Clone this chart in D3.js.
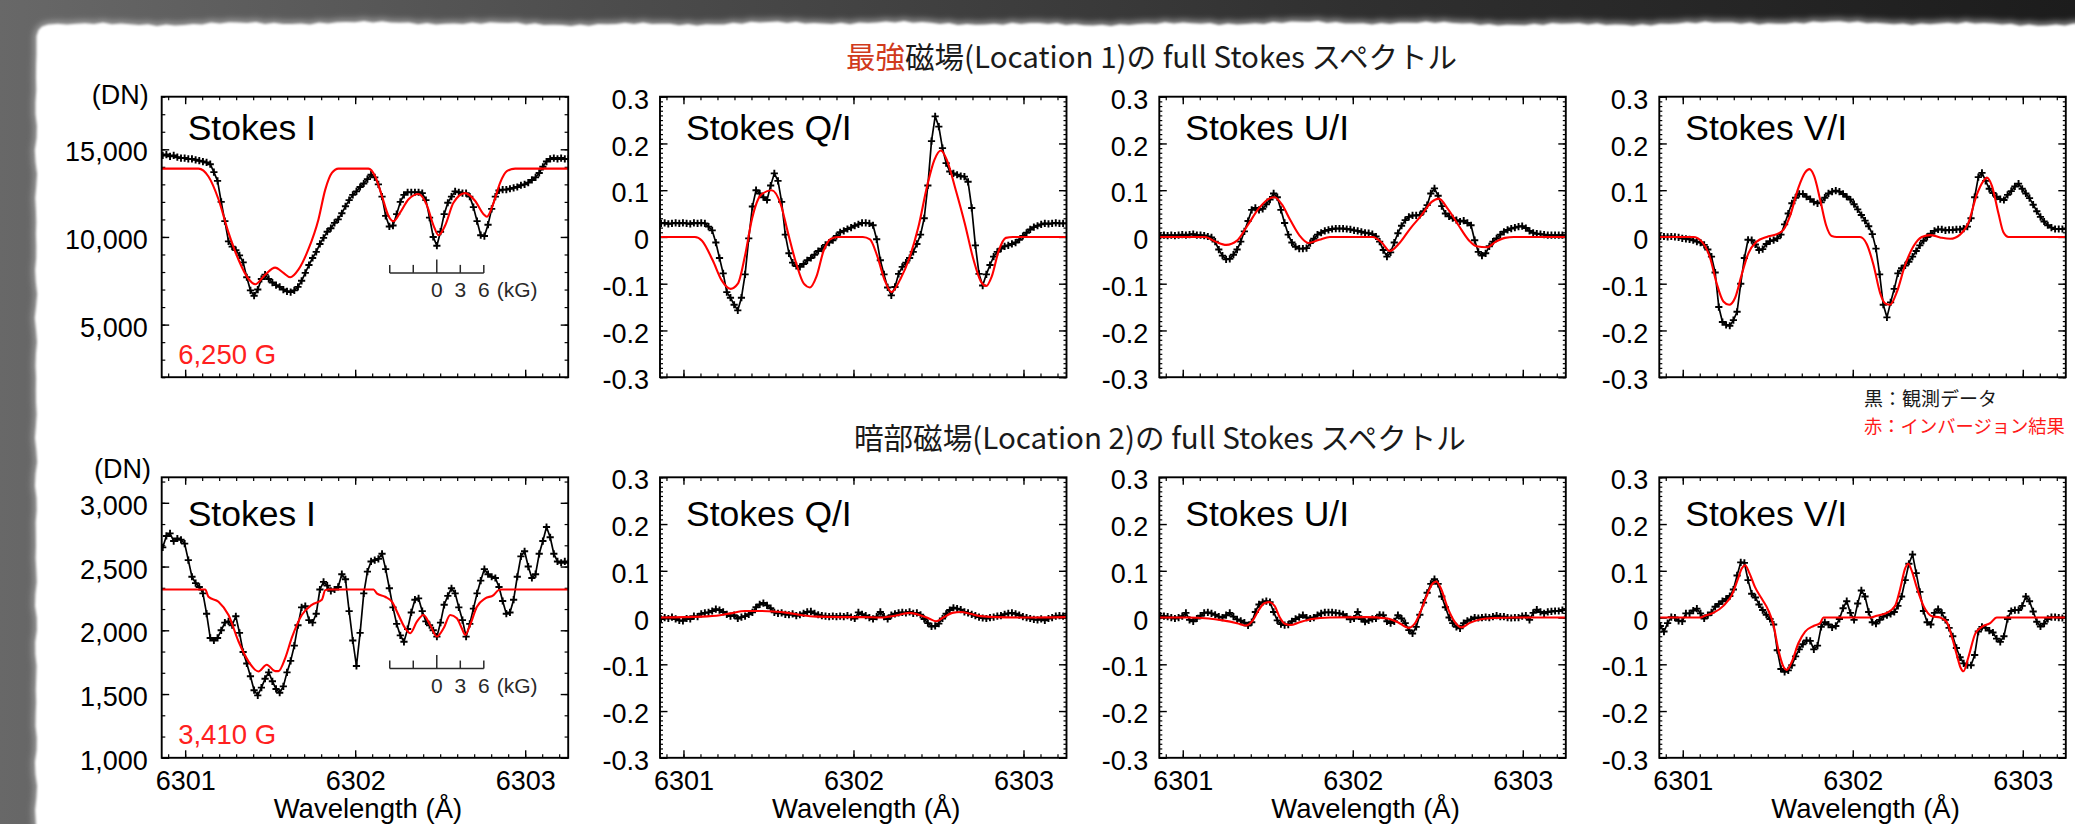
<!DOCTYPE html>
<html><head><meta charset="utf-8">
<script src="https://cdn.jsdelivr.net/npm/d3@7"></script>
<style>html,body{margin:0;padding:0;background:#2a2a2a;overflow:hidden}svg{display:block}</style>
</head><body>
<svg id="chart" width="2075" height="824"></svg>
<script>
// ================= DATA =================
// Hinode/SP sampling grid (wavelength in Å)
const lambdaStart = 6300.868, lambdaStep = 0.0215, nSamples = 112;
const wavelength = d3.range(nSamples).map(i => +(lambdaStart + i * lambdaStep).toFixed(4));

const xTickValues = [6301, 6302, 6303];
const stokesNames = ["Stokes I", "Stokes Q/I", "Stokes U/I", "Stokes V/I"];
const fieldLabels = ["6,250 G", "3,410 G"];
const iTicksLoc1 = [5000, 10000, 15000];
const iTicksLoc2 = [1000, 1500, 2000, 2500, 3000];
const polTicks = [-0.3, -0.2, -0.1, 0, 0.1, 0.2, 0.3];
const kGTicks = [-6, -3, 0, 3, 6];
const kGLabels = [0, 3, 6];
const kGBarLevel = [7950, 1700];

// ---- Location 1 (strongest field) ----
const loc1_I_obs = [14650,14700,14600,14650,14550,14500,14500,14450,14450,14400,
14350,14300,14250,14150,13700,13200,12000,10900,9750,9450,
9250,8950,8550,7700,6950,6650,7000,7600,7850,7600,
7400,7250,7150,7000,6900,6850,6950,7150,7500,7950,
8400,8800,9150,9600,9950,10300,10500,10800,11000,11350,
11750,12100,12400,12600,12850,13050,13300,13550,13400,13000,
12300,11200,10600,10650,11300,12000,12400,12550,12550,12550,
12550,12500,12100,11100,10000,9500,10300,11300,11950,12300,
12600,12550,12500,12500,12300,11700,10900,10100,10050,10700,
11600,12300,12650,12700,12700,12750,12800,12850,12950,13000,
13100,13250,13400,13650,14000,14300,14450,14500,14450,14500,
14450,14450];
const loc1_I_fitLam = [6300.862,6301.078,6301.137,6301.196,6301.255,6301.314,6301.373,6301.412,6301.471,6301.529,6301.578,6301.618,6301.667,6301.725,6301.784,6301.824,6301.863,6301.902,6302.078,6302.118,6302.157,6302.196,6302.225,6302.265,6302.314,6302.373,6302.422,6302.461,6302.490,6302.529,6302.578,6302.647,6302.706,6302.755,6302.775,6302.814,6302.853,6302.892,6302.941,6303.253];
const loc1_I_fit = [13900,13900,13450,12150,10250,8700,7600,7300,7850,8250,7950,7700,8150,9300,11000,12700,13650,13900,13900,13450,12350,11200,10900,11400,12150,12450,11800,10650,10100,10650,11950,12500,12050,11300,11150,11950,13100,13750,13900,13900];

const loc1_Q_obs = [0.029,0.030,0.028,0.029,0.030,0.029,0.030,0.029,0.028,0.030,
0.029,0.030,0.029,0.022,0.014,-0.012,-0.045,-0.078,-0.118,-0.130,
-0.145,-0.157,-0.130,-0.080,-0.003,0.065,0.100,0.093,0.085,0.079,
0.110,0.136,0.120,0.075,0.005,-0.035,-0.055,-0.062,-0.064,-0.058,
-0.050,-0.045,-0.038,-0.030,-0.025,-0.017,-0.012,-0.007,0.002,0.010,
0.013,0.017,0.020,0.024,0.027,0.030,0.030,0.029,0.025,-0.005,
-0.050,-0.080,-0.108,-0.125,-0.107,-0.079,-0.064,-0.055,-0.045,-0.032,
-0.015,0.005,0.040,0.110,0.205,0.258,0.236,0.190,0.158,0.140,
0.136,0.133,0.130,0.129,0.118,0.062,-0.018,-0.079,-0.104,-0.080,
-0.060,-0.042,-0.032,-0.025,-0.020,-0.018,-0.015,-0.012,-0.006,0.002,
0.009,0.016,0.021,0.024,0.027,0.029,0.028,0.029,0.030,0.029,
0.029,0.029];
const loc1_Q_fitLam = [6300.862,6301.067,6301.109,6301.172,6301.225,6301.277,6301.320,6301.362,6301.404,6301.456,6301.519,6301.572,6301.614,6301.666,6301.708,6301.744,6301.782,6301.824,6301.866,6301.908,6302.055,6302.097,6302.139,6302.181,6302.223,6302.276,6302.329,6302.381,6302.434,6302.476,6302.514,6302.549,6302.602,6302.654,6302.707,6302.749,6302.781,6302.813,6302.854,6302.896,6302.938,6303.253];
const loc1_Q_fit = [0,0,-0.008,-0.05,-0.093,-0.111,-0.1,-0.04,0.04,0.09,0.1,0.07,0.01,-0.06,-0.1,-0.108,-0.085,-0.03,-0.004,0,0,-0.005,-0.04,-0.09,-0.118,-0.09,-0.045,0.02,0.11,0.165,0.185,0.165,0.1,0.03,-0.05,-0.095,-0.105,-0.085,-0.03,-0.002,0,0];

const loc1_U_obs = [0.003,0.004,0.003,0.004,0.003,0.004,0.005,0.004,0.005,0.006,
0.004,0.004,0.003,0.001,-0.001,-0.010,-0.027,-0.040,-0.048,-0.047,
-0.038,-0.027,-0.010,0.012,0.034,0.058,0.062,0.058,0.060,0.070,
0.080,0.093,0.085,0.058,0.030,0.005,-0.012,-0.021,-0.025,-0.025,
-0.024,-0.013,-0.004,0.005,0.009,0.013,0.015,0.017,0.018,0.018,
0.018,0.017,0.016,0.014,0.013,0.011,0.009,0.008,0.006,0.001,
-0.010,-0.028,-0.042,-0.033,-0.012,0.008,0.024,0.036,0.043,0.046,
0.046,0.047,0.055,0.068,0.093,0.104,0.088,0.066,0.050,0.044,
0.040,0.036,0.033,0.035,0.030,0.025,-0.007,-0.032,-0.040,-0.035,
-0.020,-0.010,-0.003,0.005,0.011,0.015,0.018,0.020,0.022,0.023,
0.019,0.013,0.009,0.007,0.006,0.005,0.004,0.004,0.004,0.004,
0.004,0.004];
const loc1_U_fitLam = [6300.861,6301.130,6301.193,6301.256,6301.319,6301.382,6301.445,6301.508,6301.540,6301.582,6301.634,6301.687,6301.739,6301.803,6301.866,6302.118,6302.170,6302.218,6302.275,6302.338,6302.401,6302.464,6302.506,6302.559,6302.622,6302.685,6302.727,6302.790,6302.842,6302.895,6302.947,6303.256];
const loc1_U_fit = [0,0,-0.01,-0.017,-0.008,0.025,0.06,0.082,0.085,0.07,0.035,0.003,-0.013,-0.006,0,0,-0.012,-0.03,-0.013,0.018,0.045,0.075,0.082,0.06,0.025,-0.008,-0.02,-0.022,-0.01,-0.002,0,0];

const loc1_V_obs = [0.001,0.001,0.000,0.001,0.000,-0.001,-0.003,-0.004,-0.005,-0.007,
-0.010,-0.012,-0.017,-0.027,-0.042,-0.076,-0.150,-0.182,-0.188,-0.190,
-0.178,-0.160,-0.100,-0.045,-0.006,-0.007,-0.016,-0.028,-0.026,-0.015,
-0.009,-0.007,-0.003,0.005,0.027,0.050,0.072,0.084,0.092,0.092,
0.086,0.081,0.075,0.072,0.074,0.084,0.093,0.097,0.099,0.097,
0.092,0.086,0.080,0.070,0.059,0.047,0.035,0.023,0.006,-0.025,
-0.080,-0.145,-0.172,-0.140,-0.111,-0.078,-0.067,-0.061,-0.053,-0.042,
-0.030,-0.018,-0.008,0.000,0.007,0.013,0.016,0.016,0.014,0.015,
0.015,0.016,0.016,0.018,0.022,0.040,0.085,0.128,0.137,0.120,
0.103,0.094,0.086,0.081,0.079,0.090,0.098,0.108,0.114,0.103,
0.093,0.083,0.069,0.055,0.043,0.033,0.025,0.020,0.017,0.017,
0.017,0.017];
const loc1_V_fitLam = [6300.862,6301.063,6301.112,6301.161,6301.200,6301.239,6301.273,6301.308,6301.347,6301.386,6301.435,6301.494,6301.553,6301.592,6301.631,6301.680,6301.720,6301.745,6301.773,6301.808,6301.843,6301.876,6301.906,6302.043,6302.082,6302.122,6302.161,6302.190,6302.220,6302.259,6302.308,6302.357,6302.406,6302.455,6302.514,6302.573,6302.631,6302.680,6302.729,6302.769,6302.788,6302.818,6302.857,6302.886,6302.916,6303.253];
const loc1_V_fit = [0,0,-0.01,-0.045,-0.1,-0.138,-0.145,-0.13,-0.08,-0.035,-0.01,0,0.006,0.015,0.045,0.105,0.138,0.145,0.13,0.08,0.025,0.002,0,0,-0.015,-0.06,-0.12,-0.142,-0.145,-0.118,-0.06,-0.02,0,0.004,-0.001,-0.004,0.005,0.03,0.09,0.12,0.127,0.11,0.05,0.01,0,0];

// ---- Location 2 (dark region field) ----
const loc2_I_obs = [2650,2740,2760,2700,2720,2710,2680,2550,2420,2370,
2340,2290,2130,1940,1920,1940,2000,2060,2070,2040,
2110,1980,1830,1740,1640,1530,1490,1550,1620,1670,
1600,1540,1510,1560,1670,1760,1880,2040,2180,2190,
2080,2060,2130,2320,2380,2350,2310,2320,2340,2440,
2400,2150,1920,1720,1980,2290,2460,2540,2550,2560,
2600,2480,2330,2180,2050,1960,1910,2010,2140,2240,
2250,2150,2070,2040,2000,1950,2060,2200,2270,2330,
2290,2180,2080,1950,2050,2170,2290,2390,2480,2440,
2420,2410,2340,2230,2130,2140,2240,2420,2580,2620,
2500,2410,2440,2600,2700,2810,2730,2600,2540,2530,
2540,2530];
const loc2_I_fitLam = [6300.862,6301.118,6301.137,6301.196,6301.255,6301.314,6301.373,6301.431,6301.480,6301.529,6301.549,6301.588,6301.627,6301.686,6301.745,6301.804,6301.824,6301.843,6302.108,6302.127,6302.176,6302.216,6302.255,6302.294,6302.324,6302.363,6302.402,6302.441,6302.480,6302.520,6302.559,6302.598,6302.627,6302.647,6302.676,6302.716,6302.765,6302.814,6302.843,6302.863,6303.253];
const loc2_I_fit = [2320,2320,2263,2224,2120,1912,1755,1677,1730,1680,1680,1780,1940,2120,2200,2240,2315,2320,2320,2290,2263,2224,2120,2016,1977,2068,2120,2042,1951,2016,2120,2094,2016,1964,2042,2185,2250,2276,2315,2320,2320];

const loc2_Q_obs = [-0.003,0.000,-0.002,0.001,-0.003,-0.006,-0.007,-0.002,-0.003,0.003,
0.002,0.008,0.010,0.011,0.014,0.018,0.016,0.012,0.007,0.003,
0.005,-0.002,0.001,0.003,0.007,0.011,0.022,0.028,0.031,0.026,
0.020,0.011,0.009,0.010,0.007,0.006,0.008,0.004,0.006,0.009,
0.012,0.013,0.009,0.006,0.004,0.003,0.002,0.003,0.002,0.003,
0.002,0.004,0.001,-0.002,0.011,0.007,0.004,0.000,-0.003,0.002,
0.012,0.002,-0.003,0.005,0.008,0.010,0.011,0.010,0.012,0.009,
0.010,0.006,-0.003,-0.012,-0.019,-0.018,-0.013,-0.002,0.008,0.016,
0.021,0.019,0.017,0.012,0.010,0.007,0.004,0.001,-0.001,-0.002,
0.000,0.001,0.003,0.004,0.007,0.009,0.010,0.008,0.005,0.002,
0.000,-0.002,-0.004,-0.005,-0.003,-0.006,-0.002,0.000,0.003,0.004,
0.003,0.005];
const loc2_Q_fitLam = [6300.861,6301.109,6301.214,6301.277,6301.362,6301.446,6301.530,6301.614,6301.698,6301.782,6301.908,6302.055,6302.160,6302.244,6302.329,6302.392,6302.444,6302.486,6302.528,6302.581,6302.633,6302.686,6302.749,6302.833,6303.001,6303.253];
const loc2_Q_fit = [0,0.002,0.005,0.009,0.014,0.014,0.013,0.01,0.005,0.002,0.001,0.001,0,0.004,0.01,0.005,-0.002,-0.008,0,0.01,0.012,0.008,0.003,0.001,0,0.001];

const loc2_U_obs = [0.004,0.003,0.002,0.000,-0.002,0.000,0.003,0.010,-0.005,-0.008,
-0.002,0.004,0.010,0.011,0.009,0.006,0.002,0.000,0.005,0.010,
0.002,-0.004,-0.007,-0.011,-0.017,-0.010,0.012,0.028,0.033,0.035,
0.033,0.012,-0.006,-0.014,-0.016,-0.015,-0.008,-0.003,0.001,0.005,
0.000,-0.002,0.000,0.005,0.009,0.011,0.011,0.011,0.010,0.009,
0.007,0.002,-0.004,-0.002,0.012,-0.003,-0.009,-0.006,-0.003,-0.002,
0.006,0.005,-0.008,-0.012,-0.008,0.005,-0.002,-0.012,-0.027,-0.034,
-0.020,0.006,0.032,0.053,0.072,0.082,0.072,0.045,0.022,0.000,
-0.012,-0.020,-0.023,-0.012,-0.007,-0.004,0.000,-0.001,0.000,0.001,
0.000,0.002,0.004,0.002,0.002,0.000,-0.001,0.000,0.000,0.003,
0.004,-0.005,0.010,0.017,0.012,0.009,0.012,0.013,0.014,0.014,
0.016,0.018];
const loc2_U_fitLam = [6300.861,6301.025,6301.151,6301.235,6301.319,6301.372,6301.414,6301.445,6301.477,6301.508,6301.540,6301.571,6301.603,6301.634,6301.687,6301.761,6301.866,6302.076,6302.202,6302.265,6302.328,6302.370,6302.401,6302.433,6302.464,6302.492,6302.521,6302.559,6302.601,6302.639,6302.685,6302.748,6302.832,6302.958,6303.256];
const loc2_U_fit = [0,0,-0.002,-0.006,-0.012,-0.017,-0.005,0.015,0.03,0.033,0.025,0,-0.014,-0.016,-0.01,-0.003,0,0.001,-0.002,-0.01,-0.022,-0.01,0.015,0.045,0.07,0.077,0.06,0.02,-0.01,-0.021,-0.012,-0.004,-0.001,0,0];

const loc2_V_obs = [-0.018,-0.030,-0.012,0.001,0.000,-0.007,-0.008,0.009,0.009,0.015,
0.019,0.009,-0.002,0.005,0.011,0.023,0.029,0.035,0.040,0.046,
0.060,0.090,0.118,0.117,0.080,0.051,0.043,0.028,0.016,0.006,
-0.003,-0.015,-0.070,-0.110,-0.116,-0.113,-0.102,-0.083,-0.068,-0.057,
-0.049,-0.050,-0.068,-0.060,-0.020,-0.010,-0.015,-0.021,-0.018,-0.003,
0.020,0.035,0.010,-0.005,0.030,0.058,0.045,0.012,-0.010,-0.013,
-0.005,0.002,0.005,0.008,0.012,0.025,0.045,0.080,0.115,0.135,
0.095,0.055,0.014,-0.010,-0.015,0.010,0.018,0.010,-0.005,-0.022,
-0.040,-0.065,-0.085,-0.098,-0.102,-0.102,-0.080,-0.030,-0.020,-0.022,
-0.028,-0.032,-0.045,-0.052,-0.040,-0.003,0.014,0.016,0.016,0.025,
0.045,0.035,0.013,-0.009,-0.019,-0.013,-0.003,0.001,0.001,0.000,
-0.001,0.001];
const loc2_V_fitLam = [6300.862,6301.102,6301.131,6301.180,6301.239,6301.288,6301.322,6301.347,6301.367,6301.392,6301.425,6301.465,6301.504,6301.533,6301.563,6301.592,6301.612,6301.641,6301.680,6301.720,6301.769,6301.808,6301.827,6302.102,6302.141,6302.200,6302.249,6302.278,6302.308,6302.327,6302.347,6302.376,6302.416,6302.465,6302.514,6302.553,6302.582,6302.612,6302.635,6302.651,6302.680,6302.720,6302.759,6302.808,6302.847,6303.253];
const loc2_V_fit = [0,0,0.004,0.01,0.025,0.048,0.08,0.105,0.112,0.095,0.065,0.04,0.015,-0.015,-0.07,-0.105,-0.112,-0.095,-0.055,-0.03,-0.018,-0.012,0,0,0.004,0.01,0.025,0.06,0.105,0.115,0.1,0.065,0.025,0.003,0,-0.01,-0.04,-0.08,-0.108,-0.115,-0.085,-0.035,-0.02,-0.012,0,0];

// ================= LAYOUT / RENDER =================
const W = 2075, H = 824;
const svg = d3.select("#chart");
const defs = svg.append("defs");
const SANS = "'Liberation Sans', Arial, Helvetica, sans-serif";
const CJK = "'Noto Sans CJK JP', 'Noto Sans', sans-serif";

// background
const bg = defs.append("linearGradient").attr("id", "bgGrad").attr("x1", 0).attr("x2", 1).attr("y1", 0).attr("y2", 0);
[[0, "#686868"], [0.3, "#4c4c4c"], [0.65, "#303030"], [1, "#1c1c1c"]].forEach(([o, c]) => bg.append("stop").attr("offset", o).attr("stop-color", c));
const soft = defs.append("filter").attr("id", "soft").attr("x", "-2%").attr("y", "-5%").attr("width", "104%").attr("height", "110%");
soft.append("feGaussianBlur").attr("stdDeviation", 1.1);
const halo = defs.append("filter").attr("id", "halo").attr("x", "-2%").attr("y", "-5%").attr("width", "104%").attr("height", "110%");
halo.append("feGaussianBlur").attr("stdDeviation", 3);

svg.append("rect").attr("width", W).attr("height", H).attr("fill", "url(#bgGrad)");

function cardPath() {
  const pts = [];
  for (let y = H + 10; y >= 44; y -= 12) {
    const j = Math.sin(y * 0.37) * 0.7 + Math.sin(y * 0.113) * 0.6;
    pts.push([36 + j, y]);
  }
  pts.push([36.5, 36], [38.5, 30], [42, 26.5], [48, 24.5]);
  for (let x = 58; x <= W + 10; x += 9) {
    const j = Math.sin(x * 0.29) * 0.8 + Math.sin(x * 0.047) * 1.0 + Math.sin(x * 0.013) * 0.9;
    pts.push([x, 23.5 + j]);
  }
  pts.push([W + 10, H + 10]);
  return "M" + pts.map(p => p[0].toFixed(1) + "," + p[1].toFixed(1)).join("L") + "Z";
}
const cp = cardPath();
svg.append("path").attr("d", cp).attr("fill", "none").attr("stroke", "#a8a8a8").attr("stroke-width", 5).attr("filter", "url(#halo)");
svg.append("path").attr("d", cp).attr("fill", "#ffffff").attr("filter", "url(#soft)");
svg.append("rect").attr("x", 44).attr("y", 32).attr("width", W).attr("height", H).attr("fill", "#fff");

// panels
const colX = [161.7, 660, 1159.3, 1659.3];
const rowY = [96.7, 477.3];
const PW = 406.5, PH = 280.5;
const xDomain = [6300.862, 6303.253];
const xMinor = d3.range(63009, 63033).map(k => k / 10);
const polMinor = d3.range(-30, 31).map(k => k / 100);
const iMinorLoc1 = d3.range(2, 19).map(k => k * 1000);
const iMinorLoc2 = d3.range(0, 14).map(k => 1000 + k * 500 / 3);

const obsData = [[loc1_I_obs, loc1_Q_obs, loc1_U_obs, loc1_V_obs], [loc2_I_obs, loc2_Q_obs, loc2_U_obs, loc2_V_obs]];
const fitLam = [[loc1_I_fitLam, loc1_Q_fitLam, loc1_U_fitLam, loc1_V_fitLam], [loc2_I_fitLam, loc2_Q_fitLam, loc2_U_fitLam, loc2_V_fitLam]];
const fitData = [[loc1_I_fit, loc1_Q_fit, loc1_U_fit, loc1_V_fit], [loc2_I_fit, loc2_Q_fit, loc2_U_fit, loc2_V_fit]];

const polFmt = v => Math.abs(v) < 1e-9 ? "0" : v.toFixed(1);
const intFmt = d3.format(",");

function styleAxis(sel, sw) {
  sel.select(".domain").remove();
  sel.selectAll("line").attr("stroke", "#000").attr("stroke-width", sw);
  sel.attr("font-family", SANS).attr("font-size", 27).attr("fill", "#000");
  sel.selectAll("text").attr("fill", "#000");
}

for (let r = 0; r < 2; r++) {
  for (let c = 0; c < 4; c++) {
    const x0 = colX[c], y0 = rowY[r];
    const g = svg.append("g");
    const x = d3.scaleLinear().domain(xDomain).range([x0, x0 + PW]);
    let yDom, yMaj, yMin, fmt, pad;
    if (c === 0) {
      if (r === 0) { yDom = [2000, 18000]; yMaj = iTicksLoc1; yMin = iMinorLoc1; }
      else { yDom = [1000, 3200]; yMaj = iTicksLoc2; yMin = iMinorLoc2; }
      fmt = intFmt; pad = 14;
    } else {
      yDom = [-0.3, 0.3]; yMaj = polTicks; yMin = polMinor; fmt = polFmt; pad = 11;
    }
    const y = d3.scaleLinear().domain(yDom).range([y0 + PH, y0]);
    const minorLen = (c === 0) ? 3.6 : 3;

    // axes (ticks inward on all sides)
    const left = g.append("g").attr("transform", `translate(${x0},0)`)
      .call(d3.axisLeft(y).tickValues(yMaj).tickSize(-7.5).tickPadding(pad).tickFormat(fmt));
    styleAxis(left, 1.4);
    left.selectAll("text").attr("dy", "0.43em");
    const leftMin = g.append("g").attr("transform", `translate(${x0},0)`)
      .call(d3.axisLeft(y).tickValues(yMin).tickSize(-minorLen).tickFormat(""));
    styleAxis(leftMin, 1.2);
    const right = g.append("g").attr("transform", `translate(${x0 + PW},0)`)
      .call(d3.axisRight(y).tickValues(yMaj).tickSize(-7.5).tickFormat(""));
    styleAxis(right, 1.4);
    const rightMin = g.append("g").attr("transform", `translate(${x0 + PW},0)`)
      .call(d3.axisRight(y).tickValues(yMin).tickSize(-minorLen).tickFormat(""));
    styleAxis(rightMin, 1.2);
    const bottom = g.append("g").attr("transform", `translate(0,${y0 + PH})`)
      .call(d3.axisBottom(x).tickValues(xTickValues).tickSize(-7.5).tickPadding(13).tickFormat(r === 1 ? d3.format("d") : ""));
    styleAxis(bottom, 1.4);
    const bottomMin = g.append("g").attr("transform", `translate(0,${y0 + PH})`)
      .call(d3.axisBottom(x).tickValues(xMinor).tickSize(-3.6).tickFormat(""));
    styleAxis(bottomMin, 1.2);
    const top = g.append("g").attr("transform", `translate(0,${y0})`)
      .call(d3.axisTop(x).tickValues(xTickValues).tickSize(-7.5).tickFormat(""));
    styleAxis(top, 1.4);
    const topMin = g.append("g").attr("transform", `translate(0,${y0})`)
      .call(d3.axisTop(x).tickValues(xMinor).tickSize(-3.6).tickFormat(""));
    styleAxis(topMin, 1.2);

    // clip
    const cid = `clip${r}${c}`;
    defs.append("clipPath").attr("id", cid).append("rect")
      .attr("x", x0).attr("y", y0).attr("width", PW).attr("height", PH);
    const plot = g.append("g").attr("clip-path", `url(#${cid})`);

    // observed (black line + plus markers)
    const obs = obsData[r][c].map((v, i) => [wavelength[i], v]);
    plot.append("path")
      .attr("d", d3.line().x(d => x(d[0])).y(d => y(d[1]))(obs))
      .attr("fill", "none").attr("stroke", "#000").attr("stroke-width", 1.7).attr("stroke-linejoin", "round");
    const ms = 3.6;
    plot.append("path")
      .attr("d", obs.map(d => {
        const px = x(d[0]), py = y(d[1]);
        return `M${(px - ms).toFixed(2)},${py.toFixed(2)}h${2 * ms}M${px.toFixed(2)},${(py - ms).toFixed(2)}v${2 * ms}`;
      }).join(""))
      .attr("stroke", "#000").attr("stroke-width", 1.9).attr("fill", "none");

    // inversion fit (red)
    const fit = fitData[r][c].map((v, i) => [fitLam[r][c][i], v]);
    plot.append("path")
      .attr("d", d3.line().curve(d3.curveMonotoneX).x(d => x(d[0])).y(d => y(d[1]))(fit))
      .attr("fill", "none").attr("stroke", "#ff0000").attr("stroke-width", 2.1);

    // frame
    g.append("rect").attr("x", x0).attr("y", y0).attr("width", PW).attr("height", PH)
      .attr("fill", "none").attr("stroke", "#000").attr("stroke-width", 1.9);

    // panel title
    g.append("text").attr("x", x0 + 26).attr("y", y0 + (r === 0 ? 43.3 : 48.7))
      .attr("font-family", SANS).attr("font-size", 35.5).attr("fill", "#000")
      .text(stokesNames[c]);

    if (c === 0) {
      // (DN) unit label
      g.append("text").attr("x", r === 0 ? 148.7 : 151).attr("y", r === 0 ? 104 : 478)
        .attr("text-anchor", "end").attr("font-family", SANS).attr("font-size", 27).attr("fill", "#000")
        .text("(DN)");
      // field strength
      g.append("text").attr("x", x0 + 16.5).attr("y", y0 + PH - 13.5)
        .attr("font-family", SANS).attr("font-size", 27.5).attr("fill", "#ff2020")
        .text(fieldLabels[r]);
      // kG scale bar
      const kgCenter = 6302.48, lamPerKG = 0.0461;
      const kx = d3.scaleLinear().domain([-6, 6]).range([x(kgCenter - 6 * lamPerKG), x(kgCenter + 6 * lamPerKG)]);
      const ly = y(kGBarLevel[r]);
      const sb = g.append("g").attr("stroke", "#2a2a2a").attr("stroke-width", 1.5);
      sb.append("line").attr("x1", kx(-6)).attr("x2", kx(6)).attr("y1", ly).attr("y2", ly);
      sb.selectAll("line.t").data(kGTicks).join("line").attr("class", "t")
        .attr("x1", d => kx(d)).attr("x2", d => kx(d))
        .attr("y1", ly).attr("y2", d => ly - (d === 0 ? 13.5 : 8));
      g.selectAll("text.kg").data(kGLabels).join("text").attr("class", "kg")
        .attr("x", d => kx(d)).attr("y", ly + 24.5).attr("text-anchor", "middle")
        .attr("font-family", SANS).attr("font-size", 21).attr("fill", "#2a2a2a").text(d => d);
      g.append("text").attr("x", kx(6) + 13).attr("y", ly + 24.5)
        .attr("font-family", SANS).attr("font-size", 21).attr("fill", "#2a2a2a").text("(kG)");
    }

    if (r === 1) {
      g.append("text").attr("x", x0 + PW / 2 + 3).attr("y", 818).attr("text-anchor", "middle")
        .attr("font-family", SANS).attr("font-size", 27.5).attr("fill", "#000")
        .text("Wavelength (Å)");
    }
  }
}

// row titles
function fitText(sel, target) {
  const fs = +sel.attr("font-size");
  const len = sel.node().getComputedTextLength();
  if (len > 0) sel.attr("font-size", (fs * target / len).toFixed(2));
}
const t1 = svg.append("text").attr("x", 846).attr("y", 67.5).attr("font-family", CJK).attr("font-size", 28).attr("fill", "#1a1a1a");
t1.append("tspan").attr("fill", "#d03a1c").text("最強");
t1.append("tspan").text("磁場(Location 1)の full Stokes スペクトル");
fitText(t1, 611);
const t2 = svg.append("text").attr("x", 854).attr("y", 449).attr("font-family", CJK).attr("font-size", 28).attr("fill", "#1a1a1a")
  .text("暗部磁場(Location 2)の full Stokes スペクトル");
fitText(t2, 612);

// legend
const l1 = svg.append("text").attr("x", 1864).attr("y", 406).attr("font-family", CJK).attr("font-size", 18.5).attr("fill", "#1a1a1a").text("黒：観測データ");
fitText(l1, 133);
const l2 = svg.append("text").attr("x", 1864).attr("y", 433).attr("font-family", CJK).attr("font-size", 18.5).attr("fill", "#ff1a1a").text("赤：インバージョン結果");
fitText(l2, 201);
</script>
</body></html>
